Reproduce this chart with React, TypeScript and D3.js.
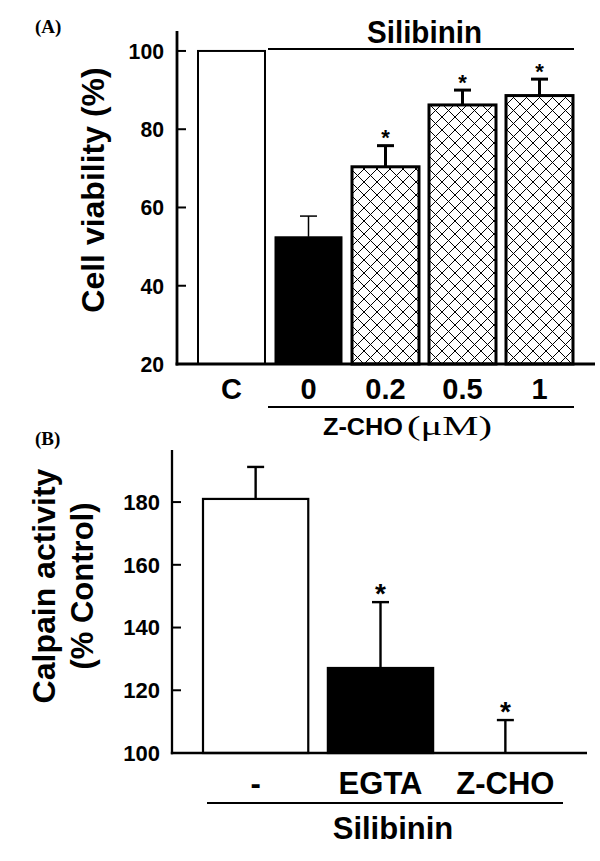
import React, { useEffect, useRef } from "react";
import * as d3 from "d3";

// Panel A: cell viability
const categoriesA = ["C", "0", "0.2", "0.5", "1"];
const viability = [100, 52.5, 70.4, 86.2, 88.6];
const viabilityErr = [0, 5.3, 5.4, 3.8, 4.2];
const signifA = [false, false, true, true, true];
const ticksA = [20, 40, 60, 80, 100];

// Panel B: calpain activity
const categoriesB = ["-", "EGTA", "Z-CHO"];
const calpain = [181, 127.1, 100];
const calpainErr = [10.2, 21, 10.5];
const signifB = [false, true, true];
const ticksB = [100, 120, 140, 160, 180];

const SANS = "'Liberation Sans', Arial, sans-serif";
const SERIF = "'Liberation Serif', 'Times New Roman', serif";

const App = () => {
  const svgRef = useRef<SVGSVGElement | null>(null);

  useEffect(() => {
    const svg = d3.select(svgRef.current);
    svg.selectAll("*").remove();
    svg.attr("width", 600).attr("height", 861);

    // hatch pattern for the Z-CHO bars
    const defs = svg.append("defs");
    const pat = defs
      .append("pattern")
      .attr("id", "hatch")
      .attr("patternUnits", "userSpaceOnUse")
      .attr("width", 13)
      .attr("height", 13);
    pat.append("rect").attr("width", 13).attr("height", 13).attr("fill", "white");
    pat
      .append("path")
      .attr("d", "M0,0L13,13M13,0L0,13")
      .attr("stroke", "black")
      .attr("stroke-width", 1);

    // ---------------- Panel A ----------------
    const yA = d3.scaleLinear().domain([20, 105.1]).range([364, 31]);
    const xA = d3
      .scaleBand()
      .domain(categoriesA)
      .range([198, 573])
      .paddingInner(0.13)
      .paddingOuter(0);
    const gA = svg.append("g");
    const axisLeftA = 177;
    const axisRightA = 595;

    gA.append("text")
      .attr("x", 35)
      .attr("y", 33)
      .attr("font-family", SERIF)
      .attr("font-weight", "bold")
      .attr("font-size", 19)
      .text("(A)");

    const fillA = (i: number) => (i === 0 ? "white" : i === 1 ? "black" : "url(#hatch)");

    gA.selectAll(".barA")
      .data(viability)
      .enter()
      .append("rect")
      .attr("x", (d, i) => xA(categoriesA[i])!)
      .attr("width", xA.bandwidth())
      .attr("y", (d) => yA(d))
      .attr("height", (d) => yA(20) - yA(d))
      .attr("fill", (d, i) => fillA(i))
      .attr("stroke", "black")
      .attr("stroke-width", (d, i) => (i === 0 ? 2 : i === 1 ? 1 : 3));

    // error bars
    viability.forEach((v, i) => {
      if (!viabilityErr[i]) return;
      const cx = xA(categoriesA[i])! + xA.bandwidth() / 2;
      const sw = i === 1 ? 1.5 : 3;
      gA.append("line")
        .attr("x1", cx).attr("x2", cx)
        .attr("y1", yA(v)).attr("y2", yA(v + viabilityErr[i]))
        .attr("stroke", "black").attr("stroke-width", sw);
      gA.append("line")
        .attr("x1", cx - 8.5).attr("x2", cx + 8.5)
        .attr("y1", yA(v + viabilityErr[i])).attr("y2", yA(v + viabilityErr[i]))
        .attr("stroke", "black").attr("stroke-width", sw);
      if (signifA[i]) {
        gA.append("text")
          .attr("x", cx)
          .attr("y", yA(v + viabilityErr[i]) - 13 + 12.6)
          .attr("text-anchor", "middle")
          .attr("font-family", SANS)
          .attr("font-weight", "bold")
          .attr("font-size", 22)
          .text("*");
      }
    });

    // axes
    gA.append("line")
      .attr("x1", axisLeftA).attr("x2", axisLeftA)
      .attr("y1", yA.range()[0] + 1.5).attr("y2", yA.range()[1])
      .attr("stroke", "black").attr("stroke-width", 2.8);
    gA.append("line")
      .attr("x1", axisLeftA - 1.4).attr("x2", axisRightA)
      .attr("y1", yA(20)).attr("y2", yA(20))
      .attr("stroke", "black").attr("stroke-width", 2.8);
    ticksA.forEach((t) => {
      gA.append("line")
        .attr("x1", axisLeftA).attr("x2", axisLeftA + 9)
        .attr("y1", yA(t)).attr("y2", yA(t))
        .attr("stroke", "black").attr("stroke-width", 2);
      gA.append("text")
        .attr("x", 164)
        .attr("y", yA(t))
        .attr("dy", "0.36em")
        .attr("text-anchor", "end")
        .attr("font-family", SANS)
        .attr("font-weight", "bold")
        .attr("font-size", 22)
        .attr("textLength", String(t).length * 11.8)
        .attr("lengthAdjust", "spacingAndGlyphs")
        .text(t);
    });

    categoriesA.forEach((c) => {
      gA.append("text")
        .attr("x", xA(c)! + xA.bandwidth() / 2)
        .attr("y", 399)
        .attr("text-anchor", "middle")
        .attr("font-family", SANS)
        .attr("font-weight", "bold")
        .attr("font-size", 29)
        .text(c);
    });

    gA.append("text")
      .attr("transform", "translate(104,190) rotate(-90)")
      .attr("text-anchor", "middle")
      .attr("font-family", SANS)
      .attr("font-weight", "bold")
      .attr("font-size", 32)
      .text("Cell viability (%)");

    // group lines
    const groupX1 = xA("0")! - 7;
    const groupX2 = xA("1")! + xA.bandwidth() + 1;
    gA.append("line")
      .attr("x1", groupX1).attr("x2", groupX2)
      .attr("y1", 49).attr("y2", 49)
      .attr("stroke", "black").attr("stroke-width", 2.2);
    gA.append("text")
      .attr("x", 424.5)
      .attr("y", 43)
      .attr("text-anchor", "middle")
      .attr("font-family", SANS)
      .attr("font-weight", "bold")
      .attr("font-size", 31)
      .attr("textLength", 115)
      .attr("lengthAdjust", "spacingAndGlyphs")
      .text("Silibinin");
    gA.append("line")
      .attr("x1", groupX1).attr("x2", groupX2)
      .attr("y1", 407).attr("y2", 407)
      .attr("stroke", "black").attr("stroke-width", 2.2);
    gA.append("text")
      .attr("x", 323)
      .attr("y", 435)
      .attr("font-family", SANS)
      .attr("font-weight", "bold")
      .attr("font-size", 24)
      .attr("textLength", 80)
      .attr("lengthAdjust", "spacingAndGlyphs")
      .text("Z-CHO");
    gA.append("text")
      .attr("x", 407)
      .attr("y", 435)
      .attr("font-family", SERIF)
      .attr("font-size", 27)
      .attr("textLength", 85)
      .attr("lengthAdjust", "spacingAndGlyphs")
      .text("(\u03bcM)");

    // ---------------- Panel B ----------------
    const yB = d3.scaleLinear().domain([100, 196.6]).range([753, 450]);
    const xB = d3
      .scaleBand()
      .domain(categoriesB)
      .range([203, 558])
      .paddingInner(0.157)
      .paddingOuter(0);
    const gB = svg.append("g");
    const axisLeftB = 172;
    const axisRightB = 587;

    gB.append("text")
      .attr("x", 35)
      .attr("y", 445)
      .attr("font-family", SERIF)
      .attr("font-weight", "bold")
      .attr("font-size", 19)
      .text("(B)");

    gB.selectAll(".barB")
      .data(calpain)
      .enter()
      .append("rect")
      .attr("x", (d, i) => xB(categoriesB[i])!)
      .attr("width", xB.bandwidth())
      .attr("y", (d) => yB(d))
      .attr("height", (d) => yB(100) - yB(d))
      .attr("fill", (d, i) => (i === 0 ? "white" : "black"))
      .attr("stroke", "black")
      .attr("stroke-width", (d) => (d > 100 ? 2.2 : 0));

    calpain.forEach((v, i) => {
      const cx = xB(categoriesB[i])! + xB.bandwidth() / 2;
      const top = yB(v + calpainErr[i]);
      gB.append("line")
        .attr("x1", cx).attr("x2", cx)
        .attr("y1", yB(v)).attr("y2", top)
        .attr("stroke", "black").attr("stroke-width", 2.4);
      gB.append("line")
        .attr("x1", cx - 8.5).attr("x2", cx + 8.5)
        .attr("y1", top).attr("y2", top)
        .attr("stroke", "black").attr("stroke-width", 2.4);
      if (signifB[i]) {
        gB.append("text")
          .attr("x", cx)
          .attr("y", top - 15 + 16)
          .attr("text-anchor", "middle")
          .attr("font-family", SANS)
          .attr("font-weight", "bold")
          .attr("font-size", 28)
          .text("*");
      }
    });

    gB.append("line")
      .attr("x1", axisLeftB).attr("x2", axisLeftB)
      .attr("y1", yB.range()[0] + 1.2).attr("y2", yB.range()[1])
      .attr("stroke", "black").attr("stroke-width", 2.3);
    gB.append("line")
      .attr("x1", axisLeftB - 1.2).attr("x2", axisRightB)
      .attr("y1", yB(100)).attr("y2", yB(100))
      .attr("stroke", "black").attr("stroke-width", 2.3);
    ticksB.forEach((t) => {
      gB.append("line")
        .attr("x1", axisLeftB).attr("x2", axisLeftB + 9)
        .attr("y1", yB(t)).attr("y2", yB(t))
        .attr("stroke", "black").attr("stroke-width", 2);
      gB.append("text")
        .attr("x", 160)
        .attr("y", yB(t))
        .attr("dy", "0.36em")
        .attr("text-anchor", "end")
        .attr("font-family", SANS)
        .attr("font-weight", "bold")
        .attr("font-size", 22)
        .text(t);
    });

    categoriesB.forEach((c) => {
      gB.append("text")
        .attr("x", xB(c)! + xB.bandwidth() / 2)
        .attr("y", 794)
        .attr("text-anchor", "middle")
        .attr("font-family", SANS)
        .attr("font-weight", "bold")
        .attr("font-size", 31)
        .text(c);
    });

    gB.append("line")
      .attr("x1", xB("-")! + 4).attr("x2", xB("Z-CHO")! + xB.bandwidth() + 5)
      .attr("y1", 803).attr("y2", 803)
      .attr("stroke", "black").attr("stroke-width", 2.2);
    gB.append("text")
      .attr("x", 393)
      .attr("y", 839)
      .attr("text-anchor", "middle")
      .attr("font-family", SANS)
      .attr("font-weight", "bold")
      .attr("font-size", 31)
      .text("Silibinin");

    gB.append("text")
      .attr("transform", "translate(55,586) rotate(-90)")
      .attr("text-anchor", "middle")
      .attr("font-family", SANS)
      .attr("font-weight", "bold")
      .attr("font-size", 32)
      .text("Calpain activity");
    gB.append("text")
      .attr("transform", "translate(93,586) rotate(-90)")
      .attr("text-anchor", "middle")
      .attr("font-family", SANS)
      .attr("font-weight", "bold")
      .attr("font-size", 31)
      .text("(% Control)");
  }, []);

  return (
    <svg
      ref={svgRef}
      style={{ position: "absolute", left: 0, top: 0, background: "white" }}
    ></svg>
  );
};

export default App;
